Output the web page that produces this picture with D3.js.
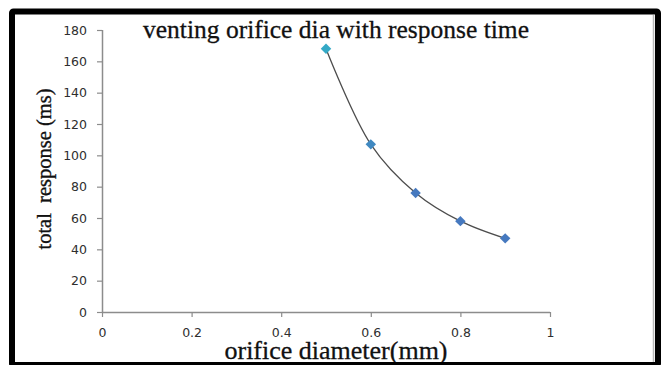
<!DOCTYPE html>
<html>
<head>
<meta charset="utf-8">
<script src="https://cdn.jsdelivr.net/npm/d3@7"></script>
<style>
  html, body { margin: 0; padding: 0; background: #fff; }
  svg { display: block; }
</style>
</head>
<body>
<svg id="chart" width="669" height="365"></svg>
<script>
// ---- data ----
const diameters = [0.5, 0.6, 0.7, 0.8, 0.9];
const responses = [168, 107, 76, 58, 47];
const xTicks = [0, 0.2, 0.4, 0.6, 0.8, 1];
const yTicks = [0, 20, 40, 60, 80, 100, 120, 140, 160, 180];
const titleText = "venting orifice dia with response time";
const xTitle = "orifice diameter(mm)";
const yTitle = "total  response (ms)";

(function () {
const svg = d3.select("#chart");
const W = 669, H = 365;

// plot area
const pL = 102, pR = 550, pT = 30, pB = 312;

const x = d3.scaleLinear().domain([0, 1]).range([pL, pR]);
const y = d3.scaleLinear().domain([0, 180]).range([pB, pT]);

svg.append("rect").attr("width", W).attr("height", H).attr("fill", "#fff");

// marker colour shading (teal higher up, blue lower down)
const markColor = d3.scaleLinear().domain([168, 76]).range(["#34a9c6", "#4679bf"]).clamp(true);

// axes
const axisColor = "#8c8c8c";
const yAxis = svg.append("g").attr("transform", `translate(${pL},0)`)
  .call(d3.axisLeft(y).tickValues(yTicks).tickSize(5).tickPadding(10).tickFormat(d3.format("d")));
const xAxis = svg.append("g").attr("transform", `translate(0,${pB})`)
  .call(d3.axisBottom(x).tickValues(xTicks).tickSize(5).tickPadding(11).tickFormat(d => d === 0 || d === 1 ? String(d) : d3.format(".1f")(d)));

[xAxis, yAxis].forEach(g => {
  g.select(".domain").attr("stroke", axisColor).attr("stroke-width", 1.5);
  g.selectAll(".tick line").attr("stroke", axisColor).attr("stroke-width", 1.2);
  g.selectAll(".tick text")
    .attr("fill", "#2e2e2e")
    .style("font-family", "'DejaVu Sans', Verdana, sans-serif")
    .style("font-size", "12.5px");
});
xAxis.select(".domain").attr("d", `M${pL},0.5H${pR}`);
yAxis.select(".domain").attr("d", `M0.5,${pT}V${pB}`);

// smooth line
const pts = diameters.map((d, i) => [x(d), y(responses[i]), responses[i]]);
svg.append("path")
  .attr("d", d3.line().curve(d3.curveCatmullRom.alpha(0.5))(pts.map(p => [p[0], p[1]])))
  .attr("fill", "none").attr("stroke", "#4d4d4d").attr("stroke-width", 1.3);

// diamond markers
svg.selectAll(".mk").data(pts).enter().append("path")
  .attr("class", "mk")
  .attr("d", d3.symbol().type(d3.symbolDiamond2).size(70)())
  .attr("transform", d => `translate(${d[0]},${d[1]})`)
  .attr("fill", d => markColor(d[2]));

// titles
const serif = "'Liberation Serif', 'Times New Roman', serif";
svg.append("text").attr("x", 336).attr("y", 37.5).attr("text-anchor", "middle")
  .style("font-family", serif).style("font-size", "25.5px").attr("fill", "#111")
  .attr("stroke", "#111").attr("stroke-width", 0.3)
  .text(titleText);
svg.append("text").attr("x", 336).attr("y", 358.5).attr("text-anchor", "middle")
  .style("font-family", serif).style("font-size", "26px").attr("fill", "#111")
  .attr("stroke", "#111").attr("stroke-width", 0.3)
  .text(xTitle);
svg.append("text").attr("transform", "translate(51,169) rotate(-90)").attr("text-anchor", "middle")
  .style("font-family", serif).style("font-size", "20.5px").style("white-space", "pre").attr("fill", "#111")
  .attr("stroke", "#111").attr("stroke-width", 0.35)
  .text(yTitle);

// frame
svg.append("line").attr("x1", 653.5).attr("x2", 653.5).attr("y1", 15).attr("y2", 362)
  .attr("stroke", "#b8b8b8").attr("stroke-width", 1.5);
svg.append("rect").attr("x", 12).attr("y", 11.5).attr("width", 646).attr("height", 353.5)
  .attr("fill", "none").attr("stroke", "#000").attr("stroke-width", 6).attr("rx", 1.5);
})();
</script>
</body>
</html>
